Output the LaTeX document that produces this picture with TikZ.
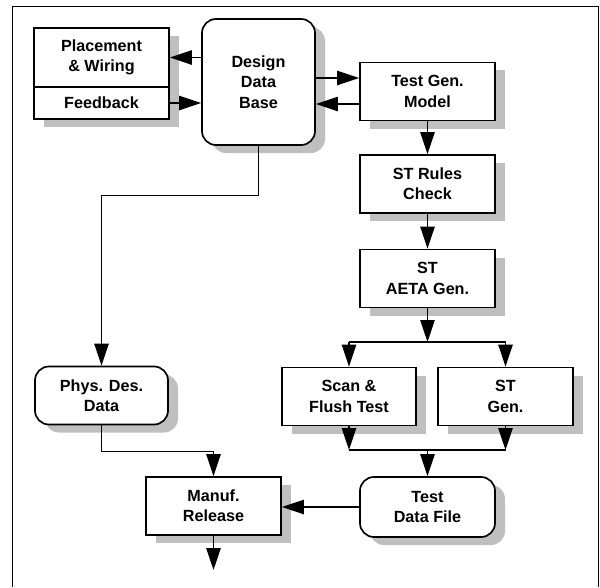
\documentclass[tikz,border=0pt]{standalone}
\usepackage{fontspec}
\setmainfont{Liberation Sans}
\usetikzlibrary{arrows.meta,shadows}

\begin{document}
\begin{tikzpicture}[x=0.025cm,y=-0.025cm,
  line cap=butt,line join=miter,
  every node/.style={font=\bfseries\fontsize{11.5}{14.5}\selectfont,align=center},
  L/.style={line width=.9pt},
  arr/.style={L,-{Triangle[length=.55cm,width=.36cm]}},
  shd/.style={drop shadow={shadow xshift=.25cm,shadow yshift=-.2cm,fill=black!25,opacity=1}},
  b/.style={draw,line width=1.2pt,fill=white,inner sep=0pt,shd,minimum width=3.375cm,minimum height=1.45cm},
  r/.style={b,rounded corners=.35cm}]

  \useasboundingbox (0,0) rectangle (600,587);

  %% ---- outer frame (open at the bottom)
  \draw[line width=.6pt] (12,587) |- (598,6) -- (598,587);

  %% ---- boxes
  \node[b,minimum height=1.475cm] (pw)  at (101.5,57.5) {Placement\\\& Wiring};
  \node[b,minimum height=.8cm]    (fb)  at (101.5,103)  {Feedback};
  \node[r,minimum width=2.825cm,minimum height=3.15cm] (ddb) at (258.5,82) {Design\\Data\\Base};
  \node[b] (tgm)  at (427.5,91.5) {Test Gen.\\Model};
  \node[b] (str)  at (427.5,184)  {ST Rules\\Check};
  \node[b] (aeta) at (427.5,278.5) {ST\\AETA Gen.};
  \node[b,minimum width=3.35cm] (scan) at (349,396.5) {Scan \&\\Flush Test};
  \node[b] (stg)  at (505.5,396.5) {ST\\Gen.};
  \node[r,minimum height=1.5cm] (tdf) at (427.5,507) {Test\\Data File};
  \node[b] (mr)   at (213.5,506) {Manuf.\\Release};
  \node[r,minimum width=3.325cm] (pdd) at (101.5,395.5) {Phys. Des.\\Data};

  %% ---- junction points
  \coordinate (j1) at (427.5,342);
  \coordinate (j2) at (427.5,450);
  \coordinate (out) at (213.5,570);

  %% ---- design data base links
  \draw[arr] (ddb.west |- pw) -- (pw.east |- pw);
  \draw[arr] (fb.east) -- (ddb.west |- fb);
  \draw[arr] (ddb.east |- 0,78) -- (tgm.west |- 0,78);
  \draw[arr] (tgm.west |- 0,104) -- (ddb.east |- 0,104);
  \draw[arr] (ddb.south) -- ++(0,50) -| (pdd.north);

  %% ---- test generation chain
  \draw[arr] (tgm) -- (str);
  \draw[arr] (str) -- (aeta);
  \draw[arr] (aeta) -- (j1);
  \draw[L] (scan |- j1) -- (stg |- j1);
  \draw[arr] (scan |- j1) -- (scan.north);
  \draw[arr] (stg |- j1) -- (stg.north);
  \draw[arr] (scan.south) -- (scan |- j2);
  \draw[arr] (stg.south) -- (stg |- j2);
  \draw[L] (scan |- j2) -- (stg |- j2);
  \draw[arr] (j2) -- (tdf.north);

  %% ---- release
  \draw[arr] (tdf.west) -- (mr.east |- tdf.west);
  \draw[arr] (pdd.south) -- ++(0,26) -| (mr.north);
  \draw[arr] (mr.south) -- (out);
\end{tikzpicture}
\end{document}
